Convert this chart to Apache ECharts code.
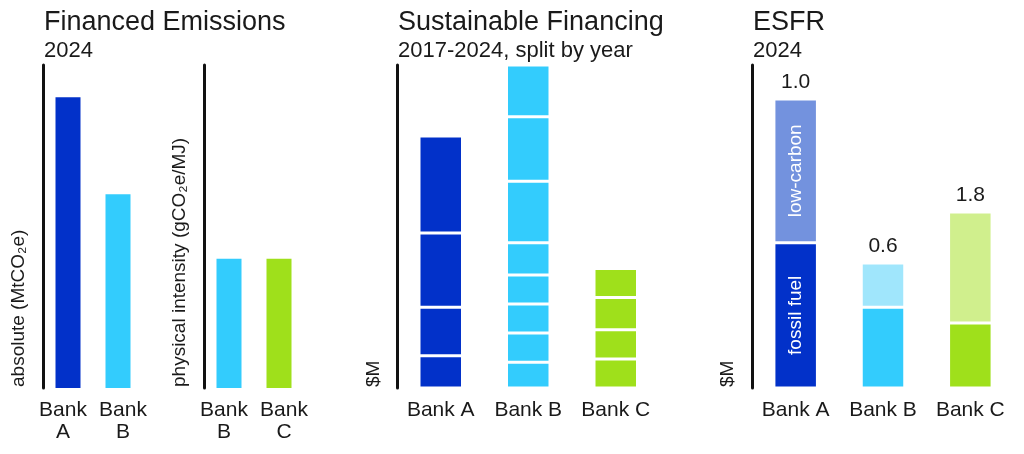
<!DOCTYPE html>
<html>
<head>
<meta charset="utf-8">
<script src="https://cdn.jsdelivr.net/npm/echarts@6.0.0/dist/echarts.min.js"></script>
<style>
  html, body { margin: 0; padding: 0; background: #fff; }
  #main { width: 1024px; height: 454px; }
</style>
</head>
<body>
<div id="main"></div>
<script>
// data (arbitrary units, no tick labels shown)
var absLabels = ['Bank\nA', 'Bank\nB'];
var absValues = [9.0, 6.0];            // absolute (MtCO2e)
var intLabels = ['Bank\nB', 'Bank\nC'];
var intValues = [4.0, 4.0];            // physical intensity

var banks = ['Bank A', 'Bank B', 'Bank C'];
// sustainable financing, yearly segments from bottom up
var sfBankA = [10, 15, 23, 30];
var sfBankB = [8, 9, 9, 9, 10, 19, 20, 16];
var sfBankC = [9, 9, 10, 9];

// ESFR 2024
var esfrFossil = [45, 25, 20.1];
var esfrLowCarbon = [44.5, 13.7, 34.4];
var esfrRatio = ['1.0', '0.6', '1.8'];

var FONT = 'Liberation Sans';
var TXT = '#1a1a1a';
var bankColors = ['#0231c9', '#33ccfd', '#9fe01b'];
var lightColors = ['#7392de', '#a0e6fc', '#d0ef8d'];

var chart = echarts.init(document.getElementById('main'));

var lblFont = { color: TXT, fontSize: 21, fontFamily: FONT, lineHeight: 22 };

function catAxis(idx, data) {
  return {
    type: 'category', gridIndex: idx, data: data,
    axisLine: { show: false }, axisTick: { show: false },
    axisLabel: Object.assign({ interval: 0, margin: 11 }, lblFont)
  };
}
// narrow two-bar panels: labels sit a little wider apart than the bars
function splitAxis(idx, data) {
  var ax = catAxis(idx, data);
  ax.axisLabel.formatter = function (v, i) {
    var k = i === 0 ? 'l' : 'r';
    return v.split('\n').map(function (s) { return '{' + k + '|' + s + '}'; }).join('\n');
  };
  ax.axisLabel.rich = {
    l: Object.assign({ padding: [0, 10, 0, 0] }, lblFont),
    r: Object.assign({ padding: [0, 0, 0, 10] }, lblFont)
  };
  return ax;
}
function valAxis(idx, max) {
  return {
    type: 'value', gridIndex: idx, min: 0, max: max,
    axisLine: { show: true, lineStyle: { color: '#111', width: 3 } },
    axisTick: { show: false }, axisLabel: { show: false }, splitLine: { show: false }
  };
}

var series = [];
series.push({
  type: 'bar', xAxisIndex: 0, yAxisIndex: 0, barWidth: 25, data: absValues,
  itemStyle: { color: function (p) { return bankColors[p.dataIndex]; } }
});
series.push({
  type: 'bar', xAxisIndex: 1, yAxisIndex: 1, barWidth: 25, data: intValues,
  itemStyle: { color: function (p) { return bankColors[p.dataIndex + 1]; } }
});

// one stacked layer per year segment
for (var i = 0; i < sfBankB.length; i++) {
  series.push({
    type: 'bar', xAxisIndex: 2, yAxisIndex: 2, stack: 'sf', barWidth: 43.5,
    data: [
      sfBankA[i] === undefined ? '-' : sfBankA[i],
      sfBankB[i],
      sfBankC[i] === undefined ? '-' : sfBankC[i]
    ],
    itemStyle: {
      color: function (p) { return bankColors[p.dataIndex]; },
      borderColor: '#fff', borderWidth: 1.5
    }
  });
}

var inLabel = { show: true, position: 'inside', rotate: 90, color: '#fff', fontSize: 19, fontFamily: FONT };
series.push({
  type: 'bar', xAxisIndex: 3, yAxisIndex: 3, stack: 'esfr', barWidth: 43.5,
  data: esfrFossil.map(function (v, k) {
    return k === 0 ? { value: v, label: Object.assign({ formatter: 'fossil fuel' }, inLabel) } : v;
  }),
  itemStyle: { color: function (p) { return bankColors[p.dataIndex]; }, borderColor: '#fff', borderWidth: 1.5 }
});
series.push({
  type: 'bar', xAxisIndex: 3, yAxisIndex: 3, stack: 'esfr', barWidth: 43.5,
  data: esfrLowCarbon.map(function (v, k) {
    return k === 0 ? { value: v, label: Object.assign({ formatter: 'low-carbon' }, inLabel) } : v;
  }),
  itemStyle: { color: function (p) { return lightColors[p.dataIndex]; }, borderColor: '#fff', borderWidth: 1.5 }
});
// zero-height layer on top carrying the ratio labels
series.push({
  type: 'bar', xAxisIndex: 3, yAxisIndex: 3, stack: 'esfr', barWidth: 43.5,
  data: esfrRatio.map(function () { return 0; }),
  itemStyle: { color: 'transparent' },
  label: {
    show: true, position: 'top', distance: 6, color: TXT, fontSize: 21, fontFamily: FONT,
    formatter: function (p) { return esfrRatio[p.dataIndex]; }
  }
});

function head(text, left, top, size) {
  return { text: text, left: left, top: top, padding: 0,
    textStyle: { color: TXT, fontSize: size, fontWeight: 'normal', fontFamily: FONT } };
}
function sideText(text, x, y) {
  return { type: 'text', x: x, y: y, rotation: Math.PI / 2,
    style: { text: text, fill: TXT, fontSize: 19, fontFamily: FONT, align: 'left', verticalAlign: 'middle' } };
}

chart.setOption({
  animation: false,
  title: [
    head('Financed Emissions', 44, 9, 27),
    head('2024', 44, 40, 22),
    head('Sustainable Financing', 398, 9, 27),
    head('2017-2024, split by year', 398, 40, 22),
    head('ESFR', 753, 9, 27),
    head('2024', 753, 40, 22)
  ],
  grid: [
    { left: 43, top: 65, width: 100, height: 323 },
    { left: 204, top: 65, width: 100, height: 323 },
    { left: 397, top: 65, width: 262.5, height: 323 },
    { left: 752, top: 65, width: 262, height: 323 }
  ],
  xAxis: [splitAxis(0, absLabels), splitAxis(1, intLabels), catAxis(2, banks), catAxis(3, banks)],
  yAxis: [valAxis(0, 10), valAxis(1, 10), valAxis(2, 100), valAxis(3, 100)],
  series: series,
  graphic: [
    sideText('absolute (MtCO\u2082e)', 19, 387),
    sideText('physical intensity (gCO\u2082e/MJ)', 180, 387),
    sideText('$M', 374, 387),
    sideText('$M', 728, 387)
  ]
});
</script>
</body>
</html>
